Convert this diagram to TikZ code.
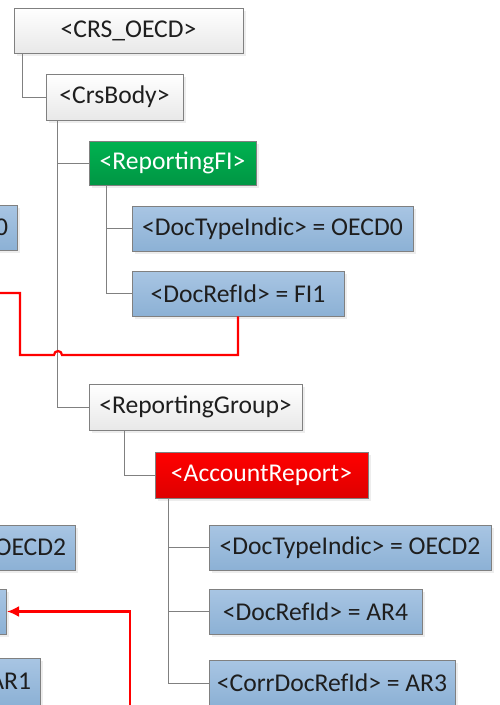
\documentclass[tikz,border=0pt]{standalone}
\usepackage{fontspec}
\setmainfont{Carlito}
\usepackage{xcolor}
\usetikzlibrary{shadows,arrows.meta}
\definecolor{boxline}{RGB}{128,128,128}
\definecolor{inktext}{RGB}{30,30,30}
\definecolor{bluetop}{RGB}{168,197,227}
\definecolor{bluebot}{RGB}{140,177,213}
\definecolor{greentop}{RGB}{0,178,80}
\definecolor{greenbot}{RGB}{0,150,68}
\definecolor{redtop}{RGB}{255,0,0}
\definecolor{redbot}{RGB}{222,0,0}

\begin{document}
\begin{tikzpicture}[x=1pt,y=-1pt,
    box/.style={draw=boxline, line width=0.8pt, inner sep=0pt, minimum height=45pt,
      text=inktext, font=\fontsize{25.6}{30}\selectfont,
      drop shadow={shadow xshift=2.5pt, shadow yshift=-2.5pt, fill=black!14}},
    plainbox/.style={box, top color=white, bottom color=black!9},
    leafbox/.style={box, top color=bluetop, bottom color=bluebot},
    fibox/.style={box, top color=greentop, bottom color=greenbot, text=white},
    accbox/.style={box, top color=redtop, bottom color=redbot, text=white},
    cutbox/.style={leafbox, anchor=east, text width=100pt, align=right, inner xsep=9.5pt},
    tie/.style={draw=boxline, line width=0.9pt},
    link/.style={draw=red, line width=2.2pt}]
    \useasboundingbox (0,0) rectangle (499,705);
    \clip (0,0) rectangle (499,705);

    \node [plainbox, minimum width=229pt] (root) at (128.5,30.5) {<CRS\_OECD>};
    \node [plainbox, minimum width=137pt, minimum height=46pt] (body) at (114.5,97) {<CrsBody>};
    \node [fibox, minimum width=167pt, minimum height=44pt] (rfi) at (172.5,163) {<ReportingFI>};
    \node [leafbox, minimum width=281pt] (fiType) at (272.5,228.5) {<DocTypeIndic> = OECD0};
    \node [leafbox, minimum width=212pt] (fiRef) at (238,293.5) {<DocRefId> = FI1};
    \node [plainbox, minimum width=213pt, minimum height=46pt] (group) at (195.5,407) {<ReportingGroup>};
    \node [accbox, minimum width=213pt, minimum height=46pt] (acct) at (261.5,475) {<AccountReport>};
    \node [leafbox, minimum width=282pt] (arType) at (350,547.5) {<DocTypeIndic> = OECD2};
    \node [leafbox, minimum width=213pt] (arRef) at (315.5,611.5) {<DocRefId> = AR4};
    \node [leafbox, minimum width=246pt, minimum height=46pt] (arCorr) at (332,683) {<CorrDocRefId> = AR3};

    \node [cutbox] (oldType) at (18,227.5) {0};
    \node [cutbox] (prevType) at (76,547.5) {OECD2};
    \node [cutbox] (prevRef) at (7,611.5) {};
    \node [cutbox, minimum height=47pt] (prevCorr) at (41,681.5) {AR1};

    \draw [tie] ([xshift=9pt]root.south west) |- (body.west);
    \draw [tie] ([xshift=12pt]body.south west) |- (rfi.west)
                ([xshift=12pt]body.south west) |- (group.west);
    \draw [tie] ([xshift=18pt]rfi.south west) |- (fiType.west)
                ([xshift=18pt]rfi.south west) |- (fiRef.west);
    \draw [tie] ([xshift=36pt]group.south west) |- (acct.west);
    \draw [tie] ([xshift=14pt]acct.south west) |- (arType.west)
                ([xshift=14pt]acct.south west) |- (arRef.west)
                ([xshift=14pt]acct.south west) |- (arCorr.west);

    \coordinate (redIn) at (-5,293);
    \coordinate (redUp) at (130,712);
    \draw [link] (redIn) -- (20,293) -- (20,355) -- (54,355)
      arc [start angle=180, end angle=360, radius=4] -| (fiRef.south);
    \draw [link, -{Latex[length=12pt,width=11pt]}] (redUp) |- (prevRef.east);
\end{tikzpicture}
\end{document}
